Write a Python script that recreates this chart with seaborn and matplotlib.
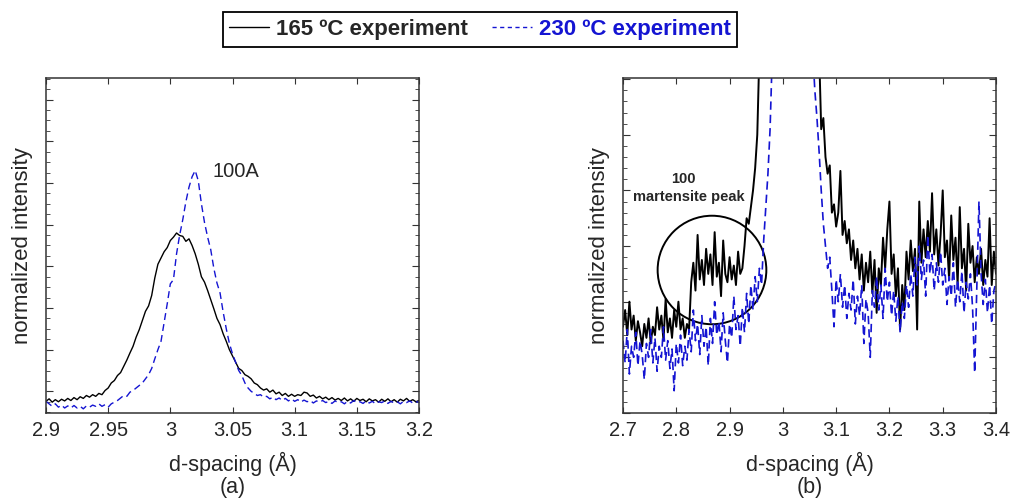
import numpy as np
import pandas as pd
import seaborn as sns
import matplotlib.pyplot as plt
from matplotlib.patches import Ellipse
from matplotlib.ticker import MultipleLocator
from matplotlib.lines import Line2D

sns.set_style("ticks")
plt.rcParams['font.family'] = ['Liberation Sans', 'DejaVu Sans']

# =============================================================================
# Data (arbitrary normalized intensity units)
# =============================================================================

# panel (a): 100A peak, 2.9 - 3.2 A, step 0.0025
a_x_range = (2.9, 3.2)
a_black = [
    -0.24, -0.18, -0.26, -0.20, -0.25, -0.19, -0.23, -0.17, -0.22, -0.15,
    -0.20, -0.13, -0.17, -0.10, -0.14, -0.08, -0.12, -0.05, -0.08, 0.02,
    0.08, 0.20, 0.26, 0.38, 0.45, 0.60, 0.75, 0.92, 1.08, 1.30,
    1.48, 1.70, 1.92, 2.05, 2.30, 2.72, 3.05, 3.20, 3.35, 3.45,
    3.62, 3.70, 3.80, 3.74, 3.72, 3.60, 3.66, 3.50, 3.30, 3.05,
    2.75, 2.62, 2.42, 2.20, 1.98, 1.75, 1.60, 1.38, 1.20, 1.00,
    0.85, 0.70, 0.55, 0.50, 0.40, 0.36, 0.30, 0.20, 0.16, 0.08,
    0.03, 0.06, -0.02, 0.03, -0.06, -0.02, -0.10, -0.05, -0.12, -0.07,
    -0.12, -0.08, -0.10, -0.02, -0.04, -0.12, -0.09, -0.16, -0.12, -0.18,
    -0.14, -0.20, -0.15, -0.21, -0.17, -0.22, -0.16, -0.23, -0.18, -0.24,
    -0.17, -0.22, -0.19, -0.25, -0.18, -0.23, -0.20, -0.26, -0.19, -0.24,
    -0.18, -0.25, -0.20, -0.26, -0.19, -0.23, -0.17, -0.24, -0.20, -0.25,
    -0.22,
]
a_blue = [
    -0.24, -0.30, -0.36, -0.30, -0.38, -0.33, -0.40, -0.35, -0.40, -0.34,
    -0.40, -0.36, -0.42, -0.35, -0.38, -0.33, -0.36, -0.30, -0.36, -0.32,
    -0.38, -0.30, -0.26, -0.22, -0.16, -0.10, -0.12, -0.02, 0.02, 0.08,
    0.14, 0.20, 0.30, 0.40, 0.55, 0.78, 1.00, 1.20, 1.65, 2.10,
    2.58, 2.68, 3.30, 3.75, 4.12, 4.55, 4.90, 5.15, 5.30, 5.05,
    4.50, 4.05, 3.70, 3.40, 2.95, 2.60, 2.36, 1.90, 1.50, 1.15,
    0.90, 0.70, 0.50, 0.38, 0.20, 0.08, 0.00, -0.05, -0.10, -0.08,
    -0.14, -0.12, -0.18, -0.14, -0.20, -0.16, -0.22, -0.17, -0.23, -0.18,
    -0.24, -0.20, -0.26, -0.21, -0.25, -0.22, -0.28, -0.23, -0.26, -0.22,
    -0.27, -0.24, -0.29, -0.23, -0.27, -0.25, -0.30, -0.24, -0.28, -0.22,
    -0.27, -0.25, -0.29, -0.23, -0.28, -0.24, -0.30, -0.25, -0.27, -0.23,
    -0.29, -0.24, -0.28, -0.25, -0.30, -0.24, -0.27, -0.23, -0.28, -0.25,
    -0.26,
]

# panel (b): martensite region, step 0.004, main peak goes off scale
b_black_lo_x = (2.700, 2.956)
b_black_lo = [
    1.55, 1.85, 1.40, 2.00, 1.50, 1.75, 1.30, 1.65, 1.45, 1.20,
    1.60, 1.35, 1.70, 1.25, 1.55, 1.40, 1.90, 1.50, 1.75, 1.30,
    2.05, 1.45, 1.70, 1.35, 1.85, 1.55, 2.00, 1.50, 1.70, 1.35,
    1.60, 1.50, 2.35, 2.70, 2.20, 3.20, 2.40, 2.75, 2.30, 2.95,
    2.50, 2.85, 2.30, 3.25, 2.45, 2.70, 2.10, 3.10, 2.50, 2.35,
    2.80, 2.40, 2.65, 2.30, 2.90, 2.50, 2.60, 3.00, 3.50, 3.40,
    3.70, 4.00, 4.40, 5.00, 6.50,
]
b_black_peak = (3.012, 40.0)
b_black_hi_x = (3.068, 3.400)
b_black_hi = [
    6.50, 5.10, 5.30, 4.60, 4.30, 4.45, 3.60, 3.75, 3.35, 3.60,
    4.35, 3.20, 3.45, 3.05, 3.30, 2.75, 3.10, 2.60, 2.95, 2.40,
    2.85, 2.20, 2.70, 2.35, 2.90, 2.15, 2.75, 1.80, 2.60, 2.30,
    3.15, 2.60, 3.30, 3.80, 2.50, 2.85, 2.10, 2.60, 1.50, 2.30,
    1.85, 2.90, 2.40, 3.10, 2.55, 2.95, 1.50, 3.80, 2.70, 3.30,
    2.80, 3.45, 2.90, 3.95, 2.85, 3.30, 2.65, 3.20, 4.00, 2.80,
    3.10, 2.40, 3.55, 2.75, 3.15, 2.30, 3.70, 2.60, 2.95, 2.20,
    3.40, 2.70, 3.00, 2.35, 2.80, 2.50, 2.95, 2.30, 2.75, 2.45,
    3.50, 2.30, 2.90, 2.50,
]
b_blue_lo_x = (2.700, 2.980)
b_blue_lo = [
    1.30, 0.90, 1.50, 0.70, 1.20, 1.00, 1.45, 0.85, 1.30, 1.05,
    0.60, 1.25, 1.00, 1.50, 0.90, 1.35, 0.75, 1.20, 1.00, 1.55,
    0.95, 1.30, 0.80, 1.15, 0.40, 1.25, 0.90, 1.40, 0.85, 1.20,
    0.95, 1.50, 1.10, 1.85, 1.30, 1.60, 1.05, 1.75, 1.20, 1.55,
    0.85, 1.70, 1.25, 2.00, 1.40, 1.65, 1.10, 1.80, 1.30, 0.90,
    1.60, 1.35, 2.10, 1.50, 1.75, 1.20, 1.90, 1.45, 2.15, 1.60,
    2.30, 1.85, 2.45, 2.00, 2.60, 2.30, 3.10, 3.70, 4.30, 5.10,
    6.40,
]
b_blue_peak = (3.018, 40.0)
b_blue_hi_x = (3.056, 3.400)
b_blue_hi = [
    6.50, 5.80, 5.30, 4.70, 4.00, 3.40, 3.00, 2.60, 2.80, 2.20,
    1.55, 2.40, 2.00, 2.50, 1.90, 2.30, 1.70, 2.15, 1.85, 2.40,
    1.60, 2.10, 1.75, 2.30, 1.25, 2.05, 1.80, 1.00, 2.20, 1.90,
    2.45, 1.85, 2.30, 1.70, 2.60, 2.00, 2.35, 1.75, 2.20, 1.65,
    2.10, 1.45, 2.00, 1.70, 2.30, 1.90, 2.50, 2.10, 2.80, 2.30,
    3.00, 2.40, 2.75, 2.10, 3.20, 2.50, 2.85, 2.20, 2.70, 2.35,
    2.90, 2.30, 2.60, 1.95, 2.45, 2.10, 2.70, 1.90, 2.40, 2.00,
    2.55, 1.80, 2.35, 2.05, 2.50, 1.90, 0.72, 2.30, 3.80, 2.50,
    1.95, 2.40, 1.80, 2.30, 1.60, 2.20, 2.35,
]

labels = ["165 \u00baC experiment", "230 \u00baC experiment"]
BLACK = "black"
BLUE = "#1414d2"


def segment(rng, vals):
    return list(np.linspace(rng[0], rng[1], len(vals))), list(vals)


def panel_b_curve(lo_rng, lo, peak, hi_rng, hi):
    x1, y1 = segment(lo_rng, lo)
    x2, y2 = segment(hi_rng, hi)
    return x1 + [peak[0]] + x2, y1 + [peak[1]] + y2


xa, ya_k = segment(a_x_range, a_black)
_, ya_b = segment(a_x_range, a_blue)
df_a = pd.DataFrame({"d": xa + xa, "I": ya_k + ya_b,
                     "run": [labels[0]] * len(xa) + [labels[1]] * len(xa)})

xk, yk = panel_b_curve(b_black_lo_x, b_black_lo, b_black_peak, b_black_hi_x, b_black_hi)
xb, yb = panel_b_curve(b_blue_lo_x, b_blue_lo, b_blue_peak, b_blue_hi_x, b_blue_hi)
df_b = pd.DataFrame({"d": xk + xb, "I": yk + yb,
                     "run": [labels[0]] * len(xk) + [labels[1]] * len(xb)})

# =============================================================================
# Figure
# =============================================================================

fig = plt.figure(figsize=(10.12, 5.0), dpi=100)
ax_a = fig.add_axes([46 / 1012, 87 / 500, 373 / 1012, 335 / 500])
ax_b = fig.add_axes([623 / 1012, 87 / 500, 373 / 1012, 335 / 500])

for ax, df, lw_k, lw_b in [(ax_a, df_a, 1.0, 1.0), (ax_b, df_b, 1.4, 1.2)]:
    sns.lineplot(data=df[df.run == labels[0]], x="d", y="I", ax=ax, color=BLACK,
                 lw=lw_k, estimator=None, sort=False, legend=False)
    sns.lineplot(data=df[df.run == labels[1]], x="d", y="I", ax=ax, color=BLUE,
                 lw=lw_b, estimator=None, sort=False, legend=False,
                 dashes=False, linestyle=(0, (5, 3)))

ax_a.set_xlim(2.9, 3.2)
ax_a.set_ylim(-0.52, 7.52)
ax_a.yaxis.set_major_locator(MultipleLocator(1))
ax_a.yaxis.set_minor_locator(MultipleLocator(0.25))
ax_a.set_xticks([2.9, 2.95, 3.0, 3.05, 3.1, 3.15, 3.2])
ax_a.set_xticklabels(["2.9", "2.95", "3", "3.05", "3.1", "3.15", "3.2"])
ax_a.text(3.053, 5.28, "100A", fontsize=14.5, ha="center", va="center")

ax_b.set_xlim(2.7, 3.4)
ax_b.set_ylim(0, 6.02)
ax_b.set_xticks([2.7, 2.8, 2.9, 3.0, 3.1, 3.2, 3.3, 3.4])
ax_b.set_xticklabels(["2.7", "2.8", "2.9", "3", "3.1", "3.2", "3.3", "3.4"])
ax_b.yaxis.set_major_locator(MultipleLocator(1))
ax_b.yaxis.set_minor_locator(MultipleLocator(0.2))
ax_b.add_patch(Ellipse((2.867, 2.57), 0.204, 1.95, fill=False, color="black", lw=1.4))
ax_b.text(2.814, 4.21, "100", fontsize=10.5, fontweight="bold", ha="center", va="center")
ax_b.text(2.823, 3.88, "martensite peak", fontsize=10.5, fontweight="bold",
          ha="center", va="center")

for ax, tag in [(ax_a, "(a)"), (ax_b, "(b)")]:
    ax.set_xlabel("d-spacing (\u00c5)\n" + tag, fontsize=15.5, linespacing=1.1, labelpad=8)
    ax.set_ylabel("normalized intensity", fontsize=16, labelpad=6)
    ax.set_yticklabels([])
    ax.tick_params(axis="both", which="both", direction="in", top=True, right=True,
                   color="#333333")
    ax.tick_params(axis="x", which="major", labelsize=14.5, length=4, pad=6)
    ax.tick_params(axis="y", which="major", length=5, labelleft=False)
    ax.tick_params(axis="y", which="minor", length=3)
    ax.tick_params(axis="x", which="minor", bottom=False, top=False)
    for sp in ax.spines.values():
        sp.set_linewidth(1.1)
        sp.set_color("#333333")

handles = [Line2D([], [], color=BLACK, lw=1.0),
           Line2D([], [], color=BLUE, lw=1.0, linestyle=(0, (3, 2.5)))]
leg = fig.legend(handles, labels, loc="center", bbox_to_anchor=(480 / 1012, 1 - 29.5 / 500),
                 ncol=2, fancybox=False, frameon=True, edgecolor="black", framealpha=1,
                 prop={"size": 16, "weight": "bold"}, handlelength=1.8,
                 handletextpad=0.3, columnspacing=1.1, borderpad=0.3)
leg.get_frame().set_linewidth(1.3)
leg.get_texts()[1].set_color(BLUE)

fig.savefig("out.png", dpi=100)
